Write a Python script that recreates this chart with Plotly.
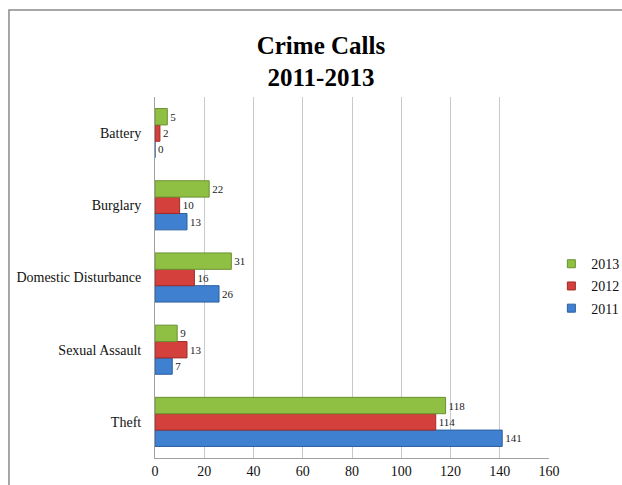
import plotly.graph_objects as go

categories = ["Theft", "Sexual Assault", "Domestic Disturbance", "Burglary", "Battery"]
years = ["2011", "2012", "2013"]
values_2011 = [141, 7, 26, 13, 0]
values_2012 = [114, 13, 16, 10, 2]
values_2013 = [118, 9, 31, 22, 5]
x_ticks = [0, 20, 40, 60, 80, 100, 120, 140, 160]

series = [values_2011, values_2012, values_2013]
colors = ["#3f80d1", "#d4403b", "#90c043"]
edges = ["#2b5f9e", "#a02c28", "#6a9130"]

font_family = "Liberation Serif, Times New Roman, serif"

fig = go.Figure()
for name, vals, c, e in zip(years, series, colors, edges):
    fig.add_trace(go.Bar(
        y=categories, x=vals, name=name, orientation="h",
        marker=dict(color=c, line=dict(color=e, width=1)),
        text=[str(v) for v in vals], textposition="outside",
        textfont=dict(family=font_family, size=11, color="#222"),
        cliponaxis=False, showlegend=False,
    ))
# legend entries with small square swatches (2013 on top)
for name, c, e in reversed(list(zip(years, colors, edges))):
    fig.add_trace(go.Scatter(
        x=[None], y=[None], mode="markers", name=name, legendgroup=name,
        marker=dict(symbol="square", size=8, color=c, line=dict(color=e, width=1)),
    ))

fig.update_layout(
    width=622, height=485,
    barmode="group", bargap=0.32, bargroupgap=0,
    paper_bgcolor="white", plot_bgcolor="white",
    margin=dict(l=155, r=73, t=97, b=27, autoexpand=False),
    font=dict(family=font_family, size=14, color="#111"),
    title=dict(text="<b>Crime Calls<br>2011-2013</b>", x=0.516, xref="container",
               xanchor="center", y=0.8895, yanchor="top",
               font=dict(family=font_family, size=25, color="#000")),
    legend=dict(traceorder="grouped", x=1.006, xanchor="left", y=0.476, yanchor="middle",
                font=dict(family=font_family, size=14, color="#111"),
                itemwidth=30, tracegroupgap=1, bgcolor="rgba(0,0,0,0)"),
    showlegend=True,
    shapes=[dict(type="rect", xref="paper", yref="paper",
                 x0=-0.3706, x1=1.4, y0=-0.3, y1=1.241,
                 line=dict(color="#8a8a8a", width=1.5), layer="below")],
)
fig.update_xaxes(range=[0, 160], tickvals=x_ticks, showgrid=True, gridcolor="#c9c9c9",
                 gridwidth=1, zeroline=False, showline=True, linecolor="#a0a0a0",
                 ticks="", tickfont=dict(size=14), automargin=False)
fig.update_yaxes(categoryorder="array", categoryarray=categories, showline=True,
                 linecolor="#a0a0a0", ticks="", ticklabelstandoff=10, tickfont=dict(size=14),
                 automargin=False)

fig.write_html("out.html", config={"displayModeBar": False},
               post_script="document.body.style.margin='0';")
